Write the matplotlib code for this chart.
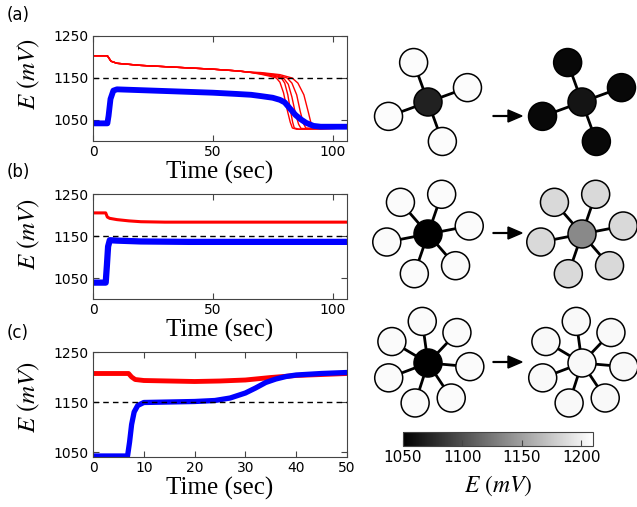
import numpy as np
import matplotlib
matplotlib.use("Agg")
import matplotlib.pyplot as plt
from matplotlib.patches import Circle
from matplotlib.colors import Normalize
from matplotlib.cm import ScalarMappable

plt.rcParams['mathtext.fontset'] = 'stix'
plt.rcParams['font.family'] = 'DejaVu Sans'

# ---- data ----
# (a) five red neighbour traces share the early part, then split
t_red_a_head = [0, 6, 7.5, 10, 20, 30, 40, 50, 60, 65]
e_red_a_head = [1203, 1203, 1190, 1185, 1180, 1177, 1174, 1171, 1167, 1164]
t_red_a_tails = [
    [70, 74, 76.5, 78, 79.5, 81, 82.3, 83.2, 85, 95, 106],
    [70, 75, 78.6, 80, 81.3, 82.5, 83.3, 84, 86, 95, 106],
    [70, 76, 79.5, 81.5, 83, 84.5, 85.8, 86.8, 90, 95, 106],
    [70, 77, 81, 83, 85, 86.5, 87.8, 88.8, 92, 95, 106],
    [70, 78, 83.1, 85.5, 88, 89.8, 91, 92.2, 95, 100, 106],
]
e_red_a_tails = [
    [1159, 1154, 1150, 1140, 1115, 1075, 1045, 1031, 1028, 1029, 1031],
    [1160, 1155, 1150, 1138, 1110, 1070, 1045, 1031, 1028, 1029, 1031],
    [1161, 1156, 1150, 1135, 1105, 1065, 1040, 1030, 1029, 1030, 1031],
    [1162, 1157, 1150, 1138, 1110, 1070, 1042, 1031, 1030, 1030, 1031],
    [1163, 1158, 1150, 1138, 1110, 1070, 1042, 1031, 1030, 1030, 1031],
]
t_blue_a = [0, 6, 6.5, 7.3, 8.5, 10, 20, 30, 40, 50, 60, 66, 70, 75, 78, 80,
            82.4, 84.5, 86.6, 89, 92, 95, 106]
e_blue_a = [1042, 1042, 1060, 1100, 1120, 1123, 1121, 1119, 1117, 1115, 1112,
            1110, 1107, 1103, 1098, 1092, 1076, 1062, 1052, 1043, 1036, 1034, 1034]

# (b)
t_red_b = [0, 5.3, 6, 7, 10, 15, 20, 30, 106]
e_red_b = [1205, 1205, 1195, 1192, 1189, 1186, 1184, 1183, 1183]
t_blue_b = [0, 5.3, 5.8, 6.3, 7, 10, 20, 40, 106]
e_blue_b = [1039, 1039, 1080, 1125, 1140, 1139, 1137, 1136, 1136]

# (c)
t_red_c = [0, 7, 7.6, 8.3, 10, 15, 20, 25, 30, 35, 40, 45, 50]
e_red_c = [1207, 1207, 1200, 1195, 1193, 1192, 1191, 1192, 1194, 1199, 1203, 1205, 1207]
t_blue_c = [0, 6.8, 7.2, 7.6, 8.1, 8.8, 10, 15, 20, 24, 27, 30, 32, 34, 36,
            38, 40, 45, 50]
e_blue_c = [1042, 1042, 1070, 1105, 1130, 1143, 1149, 1150, 1151, 1153, 1158,
            1168, 1178, 1189, 1196, 1201, 1204, 1207, 1209]

threshold = 1150

# network snapshots: (hub E, leaf E) before -> after
net_leaves = [4, 6, 7]
net_before = [(1071, 1208), (1040, 1207), (1040, 1207)]
net_after = [(1063, 1055), (1136, 1186), (1206, 1206)]

cb_ticks = [1050, 1100, 1150, 1200]
e_min, e_max = 1050, 1210

# ---- figure ----
W, H = 637, 507
fig = plt.figure(figsize=(W / 100, H / 100), dpi=100)


def px_axes(left, top, right, bottom):
    return fig.add_axes([left / W, 1 - bottom / H, (right - left) / W, (bottom - top) / H])


def style(ax, xlim, ylim, xticks, label_y):
    ax.set_xlim(*xlim)
    ax.set_ylim(*ylim)
    ax.set_xticks(xticks)
    ax.set_yticks([1050, 1150, 1250])
    ax.tick_params(direction='in', top=True, right=True, length=4, width=0.8,
                   labelsize=10, color='#444', pad=3)
    for s in ax.spines.values():
        s.set_color('#444')
    ax.axhline(threshold, color='k', ls='--', lw=1, dashes=(4, 3))
    ax.set_xlabel('Time (sec)', family='Liberation Serif', fontsize=18, labelpad=1)
    ax.set_ylabel(r'$E\ (mV)$', fontsize=18)
    ax.yaxis.set_label_coords(-0.2, label_y)


ax_a = px_axes(93, 36, 347, 141)
for tt, ee in zip(t_red_a_tails, e_red_a_tails):
    ax_a.plot(t_red_a_head + tt, e_red_a_head + ee, color='red', lw=1)
ax_a.plot(t_blue_a, e_blue_a, color='blue', lw=4.2, solid_capstyle='butt')
style(ax_a, (0, 106), (1000, 1250), [0, 50, 100], 0.64)

ax_b = px_axes(93, 194, 347, 299)
ax_b.plot(t_red_b, e_red_b, color='red', lw=2.2)
ax_b.plot(t_blue_b, e_blue_b, color='blue', lw=4.5)
style(ax_b, (0, 106), (1000, 1250), [0, 50, 100], 0.62)

ax_c = px_axes(93, 352, 347, 457)
ax_c.plot(t_red_c, e_red_c, color='red', lw=3.5)
ax_c.plot(t_blue_c, e_blue_c, color='blue', lw=3.8)
style(ax_c, (0, 50), (1040, 1250), [0, 10, 20, 30, 40, 50], 0.57)

for lab, y in zip(['(a)', '(b)', '(c)'], [15, 172, 333]):
    fig.text(18 / W, 1 - y / H, lab, fontsize=12, ha='center', va='center')

# ---- network cartoons ----
cmap = plt.get_cmap('gray')
norm = Normalize(e_min, e_max)
net = fig.add_axes([360 / W, 0, (W - 360) / W, 1])
net.set_xlim(360, W)
net.set_ylim(H, 0)
net.axis('off')

hub_y = [102, 234, 363]
start_ang = [20, 11, -5]
hub_x = (428, 582)
arm, node_r = 42, 14


def draw_star(cx, cy, n, a0, hub_e, leaf_e):
    ang = np.deg2rad(a0 + 360.0 / n * np.arange(n))
    lx = cx + arm * np.cos(ang)
    ly = cy - arm * np.sin(ang)
    for x, y in zip(lx, ly):
        net.plot([cx, x], [cy, y], color='k', lw=2, zorder=1)
        net.add_patch(Circle((x, y), node_r, fc=cmap(norm(leaf_e)), ec='k', lw=1.1, zorder=2))
    net.add_patch(Circle((cx, cy), node_r, fc=cmap(norm(hub_e)), ec='k', lw=1.1, zorder=2))


for i in range(3):
    draw_star(hub_x[0], hub_y[i], net_leaves[i], start_ang[i], *net_before[i])
    draw_star(hub_x[1], hub_y[i], net_leaves[i], start_ang[i], *net_after[i])
    ay = hub_y[i] + (14 if i == 0 else -1)
    net.arrow(493, ay, 29, 0, width=0.8, head_width=12, head_length=14,
              length_includes_head=True, color='k')

# ---- colour bar ----
cax = px_axes(403, 432, 593, 446)
cb = fig.colorbar(ScalarMappable(norm=norm, cmap=cmap), cax=cax, orientation='horizontal')
cb.set_ticks(cb_ticks)
cax.tick_params(direction='in', length=4, labelsize=11, color='#444', pad=3)
cb.outline.set_edgecolor('#444')
cb.set_label(r'$E\ (mV)$', fontsize=17, labelpad=6)

fig.savefig('out.png', dpi=100)
